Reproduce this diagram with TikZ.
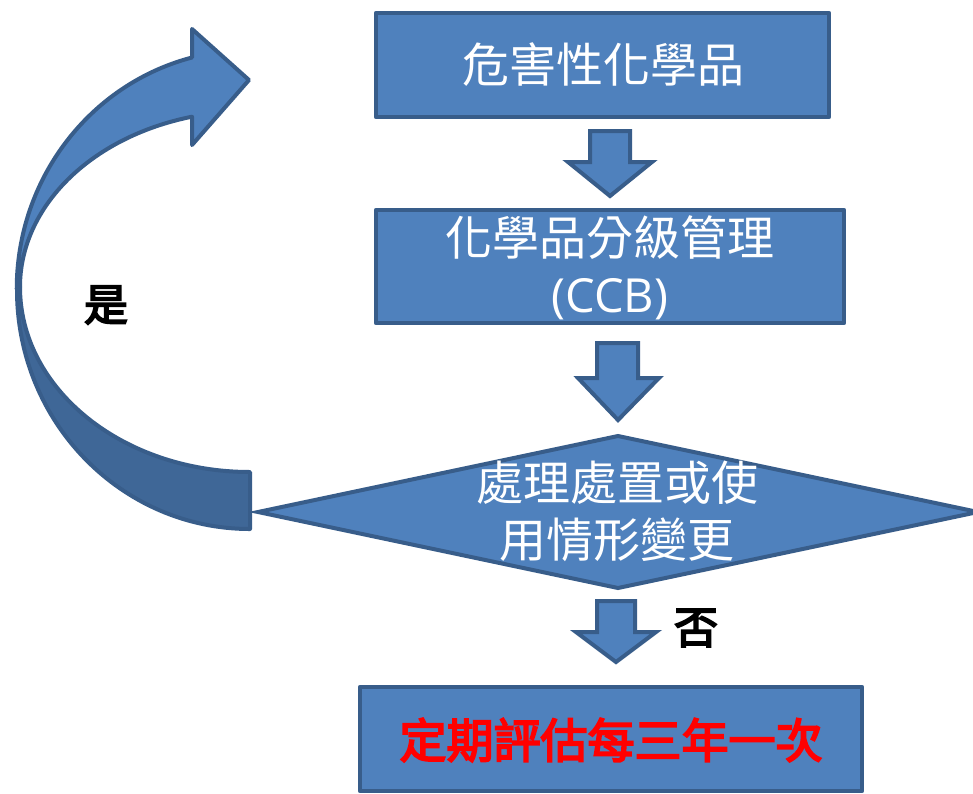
\documentclass[tikz,border=0pt]{standalone}
\usepackage{fontspec}
\setmainfont{Noto Sans CJK TC}
\newfontfamily\latinfont{Open Sans}
\newfontfamily\semibold[FakeBold=4]{Noto Sans CJK TC}
\definecolor{fillblue}{HTML}{4F81BD}
\definecolor{edgeblue}{HTML}{385D8A}
\definecolor{darkblue}{HTML}{3F6797}
\definecolor{redtext}{HTML}{FF0000}
\tikzset{
  box/.style={draw=edgeblue, fill=fillblue, line width=4.5pt, line join=round, rectangle, inner sep=0pt},
  blockarrow/.style={draw=edgeblue, fill=fillblue, line width=4pt, line join=miter},
  bandlight/.style={draw=edgeblue, fill=fillblue, line width=4pt, line join=round},
  banddark/.style={draw=edgeblue, fill=darkblue, line width=4pt, line join=round},
  wtext/.style={text=white, font=\fontsize{47}{57}\selectfont, align=center, inner sep=0pt},
  lbl/.style={text=black, font=\fontsize{44}{50}\selectfont\semibold, inner sep=0pt}
}
\begin{document}
\begin{tikzpicture}[x=1pt,y=-1pt]
\clip (0,0) rectangle (973,793);
\fill[white] (0,0) rectangle (973,793);

% boxes
\node[box, minimum width=453pt, minimum height=104pt] (b1) at (602.5,65) {};
\node[wtext] (t1) at (603,65) {危害性化學品};

\node[box, minimum width=468pt, minimum height=113pt] (b2) at (610,266.5) {};
\node[wtext] (t2) at (610,268) {化學品分級管理\\{\latinfont (CCB)}};

% diamond
\coordinate (dl) at (258,512);
\coordinate (dt) at (618,436);
\coordinate (dr) at (978,512);
\coordinate (db) at (618,588);
\draw[blockarrow] (dl) -- (dt) -- (dr) -- (db) -- cycle;
\node[wtext] (t3) at (617,511) {處理處置或使\\用情形變更};

\node[box, minimum width=502pt, minimum height=104pt] (b4) at (611,739) {};
\node[text=redtext, font=\fontsize{47}{57}\selectfont\semibold, inner sep=0pt] (t4) at (611,740) {定期評估每三年一次};

% block arrows
\draw[blockarrow] (590,131) -- (630,131) -- (630,162) -- (652,162) -- (610,196) -- (568,162) -- (590,162) -- cycle;
\draw[blockarrow] (597,343) -- (638,343) -- (638,378) -- (659,378) -- (618,420) -- (578,378) -- (597,378) -- cycle;
\draw[blockarrow] (597,601) -- (635,601) -- (635,632) -- (656,632) -- (616,662) -- (576,632) -- (597,632) -- cycle;

% curved arrow
\draw[banddark] (17,290) arc[start angle=180, end angle=90, x radius=233, y radius=239]
  -- (250,472) arc[start angle=90, end angle=180, x radius=230, y radius=185] -- cycle;
\draw[bandlight] (20,287) arc[start angle=180, end angle=255.4, x radius=230, y radius=176]
  -- (192,145) -- (249,80) -- (192,29) -- (192,57.5)
  arc[start angle=255.65, end angle=180, x radius=233, y radius=239] -- cycle;

% labels
\node[lbl] (yes) at (106,305) {是};
\node[lbl] (no) at (696,628) {否};
\end{tikzpicture}
\end{document}
